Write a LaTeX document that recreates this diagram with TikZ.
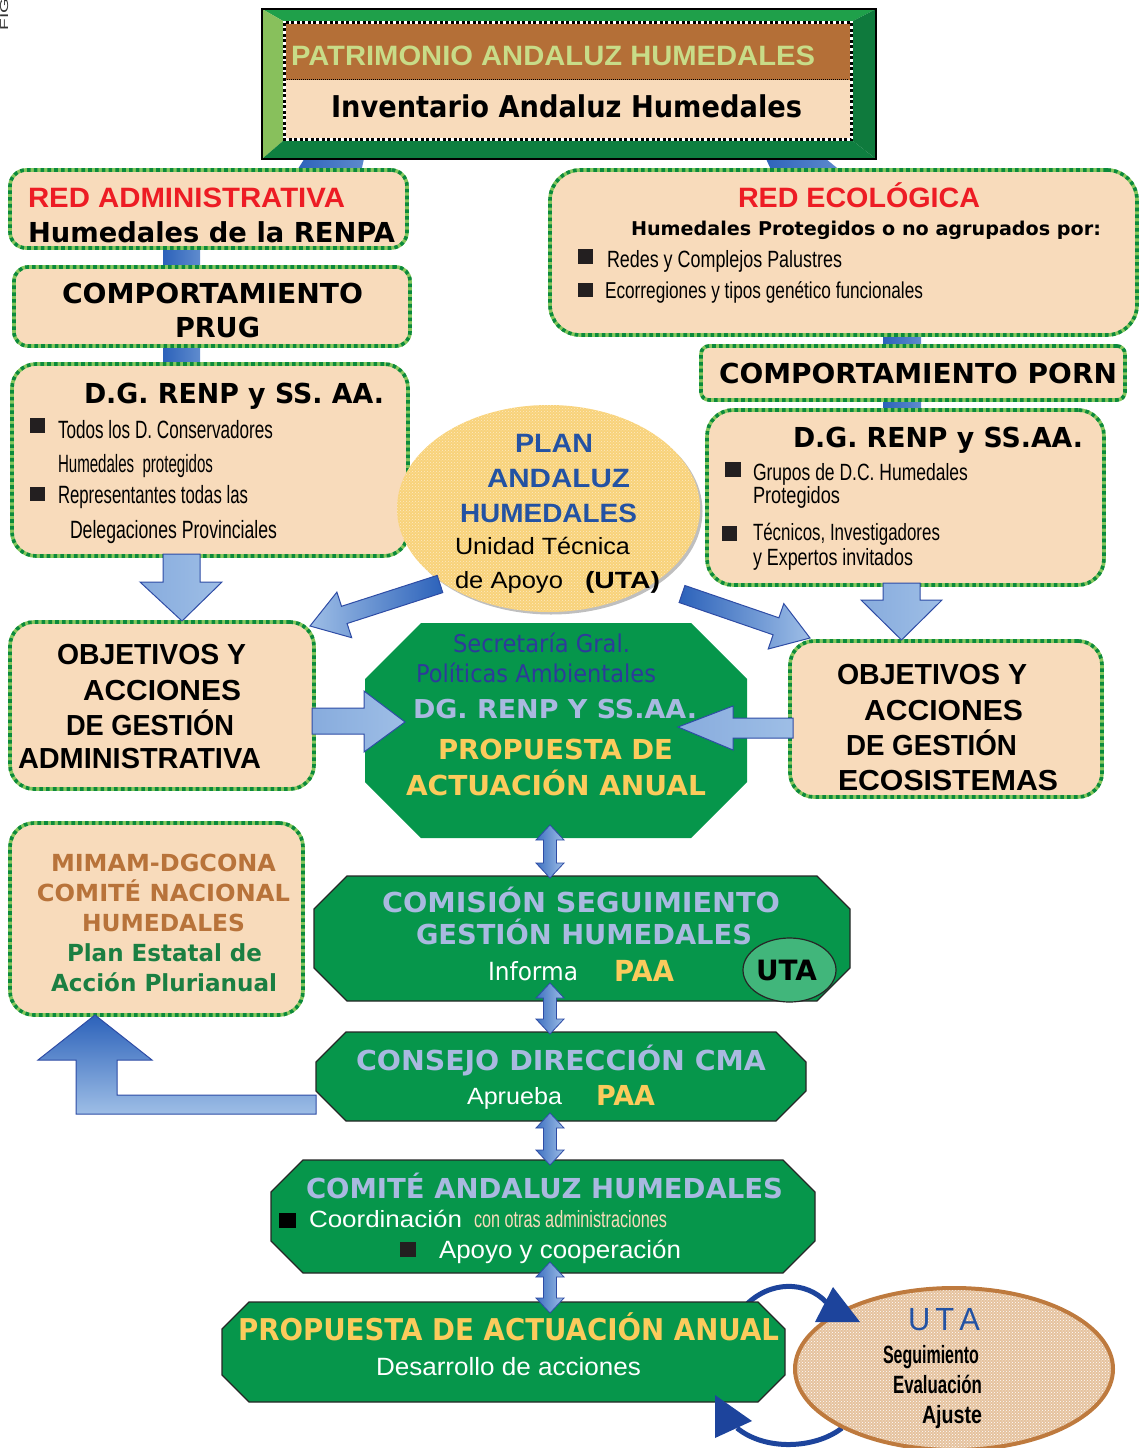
\documentclass[tikz,border=0pt]{standalone}
\usepackage{fontspec}
\usepackage{graphicx}
\usetikzlibrary{patterns,calc,shapes.geometric}
\newfontfamily\dvs{DejaVu Sans}
\newfontfamily\lib{Liberation Sans}
% text set at a given size and stretched to a given width
\newcommand\fitw[3]{\resizebox{#1pt}{\height}{\fontsize{#2pt}{#2pt}\selectfont #3}}
% chamfered green panel with a named node covering it
\newcommand\octbox[7]{%
  \path[#7] (#2+#6,#3) -- (#4-#6,#3) -- (#4,#3+#6) -- (#4,#5-#6) -- (#4-#6,#5) -- (#2+#6,#5) -- (#2,#5-#6) -- (#2,#3+#6) -- cycle;
  \node[inner sep=0pt, minimum width={(#4-#2)*1pt}, minimum height={(#5-#3)*1pt}] (#1) at ({(#2+#4)/2},{(#3+#5)/2}) {};}
% small vertical double-headed arrow
\newcommand\dbarrow[3]{%
  \path[dbl] (#1,#2) -- (#1+14,#2+15) -- (#1+6.5,#2+15) -- (#1+6.5,#3-15) -- (#1+14,#3-15) -- (#1,#3) -- (#1-14,#3-15) -- (#1-6.5,#3-15) -- (#1-6.5,#2+15) -- (#1-14,#2+15) -- cycle;}
\definecolor{peach}{HTML}{F8DBBB}
\definecolor{lgreen}{HTML}{86C75E}
\definecolor{dgreen}{HTML}{0B8A3C}
\definecolor{octgreen}{HTML}{06964B}
\definecolor{redt}{HTML}{ED1C24}
\definecolor{planblue}{HTML}{2352A3}
\definecolor{secblue}{HTML}{2E3A9A}
\definecolor{grayblue}{HTML}{A9B9E0}
\definecolor{yel}{HTML}{FBCB5C}
\definecolor{brownt}{HTML}{B8733A}
\definecolor{greent}{HTML}{1B7F42}
\definecolor{patr}{HTML}{C8DC88}
\definecolor{brownband}{HTML}{B46F37}
\definecolor{bvtop}{HTML}{1FA04A}
\definecolor{bvleft}{HTML}{88C05C}
\definecolor{bvbot}{HTML}{0E7F40}
\definecolor{bvright}{HTML}{0F7A3D}
\definecolor{adark}{HTML}{2C62BA}
\definecolor{alight}{HTML}{9EBEE6}
\definecolor{aedge}{HTML}{2E4CA5}
\definecolor{cycblue}{HTML}{1D449C}
\definecolor{planfill}{HTML}{F8D27A}
\definecolor{planpat}{HTML}{FDEBC2}
\definecolor{utafill}{HTML}{E5C29E}
\definecolor{utaedge}{HTML}{BE7A3E}
\definecolor{utagreen}{HTML}{41B67B}
\definecolor{bullet}{HTML}{231F20}
\begin{document}
\begin{tikzpicture}[x=1pt,y=-1pt,
  tx/.style={inner sep=0pt, outer sep=0pt, anchor=base west},
  pbox/.style={rounded corners=#1, fill=peach, draw=lgreen, line width=3.6pt, inner sep=0pt,
    postaction={draw=dgreen, line width=3.6pt, dash pattern=on 3.6pt off 3.2pt}},
  pbox/.default=18pt,
  oct/.style={fill=octgreen},
  octb/.style={fill=octgreen, draw=black!85, line width=1.3pt},
  shaft/.style={left color=adark, right color=adark!55!alight},
  big/.style={left color=alight!80!adark, right color=alight, draw=aedge, line width=1pt},
  dbl/.style={left color=adark!85!alight, right color=alight, draw=aedge, line width=0.8pt},
  cyc/.style={draw=cycblue, line width=5pt},
  sq/.style={fill=bullet}]
\useasboundingbox (0,0) rectangle (1140,1448);

% ---------- page caption running along the left edge ----------
\node[tx, rotate=90, text=black!80] (fig) at (8,30.5) {\fitw{32}{11.5}{\lib FIG}};

% ---------- connectors lying behind the boxes ----------
\path[shaft] (296,172) -- (310,150) -- (366,150) -- (361,172) -- cycle;
\path[shaft] (762,150) -- (815,150) -- (842,172) -- (772,172) -- cycle;
\path[shaft] (163,244) rectangle (200,270);
\path[shaft] (163,342) rectangle (200,368);
\path[shaft] (883,331) rectangle (921,350);
\path[shaft] (883,396) rectangle (921,414);

% ---------- title frame ----------
\fill[bvtop] (262,9) -- (876,9) -- (853,21) -- (283,21) -- cycle;
\fill[bvleft] (262,9) -- (283,21) -- (283,141) -- (262,159) -- cycle;
\fill[bvbot] (262,159) -- (283,141) -- (853,141) -- (876,159) -- cycle;
\fill[bvright] (876,9) -- (876,159) -- (853,141) -- (853,21) -- cycle;
\draw[black, line width=1.2pt] (262,9) rectangle (876,159);
\node[inner sep=0pt, minimum width=614pt, minimum height=150pt] (topbox) at (569,84) {};
\fill[brownband] (285,23) rectangle (851,79.5);
\fill[peach] (285,79.5) rectangle (851,139);
\draw[white, line width=3pt] (284.5,22.5) rectangle (851.5,139.5);
\draw[black, line width=3pt, dash pattern=on 3pt off 2.5pt] (284.5,22.5) rectangle (851.5,139.5);
\draw[black, line width=0.8pt, dash pattern=on 1pt off 1pt] (287,79.5) -- (849,79.5);

% ---------- peach boxes ----------
\node[pbox=16pt, minimum width=397pt, minimum height=78pt] (redadm) at (208.5,209) {};
\node[pbox=14pt, minimum width=396pt, minimum height=79pt] (prug) at (212,306.5) {};
\node[pbox=24pt, minimum width=396pt, minimum height=192pt] (dgl) at (210,460) {};
\node[pbox=30pt, minimum width=587pt, minimum height=165pt] (redeco) at (843.5,252.5) {};
\node[pbox=8pt, minimum width=424pt, minimum height=54pt] (porn) at (913,373) {};
\node[pbox=26pt, minimum width=397pt, minimum height=175pt] (dgr) at (905.5,497.5) {};
\node[pbox=24pt, minimum width=304pt, minimum height=167pt] (objl) at (162,705.5) {};
\node[pbox=24pt, minimum width=312pt, minimum height=156pt] (objr) at (946,719) {};
\node[pbox=24pt, minimum width=293pt, minimum height=192pt] (mimam) at (156.5,919) {};

% ---------- plan ellipse ----------
\fill[black!25] (551,511) ellipse [x radius=151.5, y radius=103.5];
\fill[planfill] (548.5,508.5) ellipse [x radius=151.5, y radius=103.5];
\fill[pattern=crosshatch dots, pattern color=planpat] (548.5,508.5) ellipse [x radius=151.5, y radius=103.5];
\node[inner sep=0pt, minimum width=303pt, minimum height=207pt, ellipse] (plan) at (548.5,508.5) {};

% ---------- green panels ----------
\octbox{prop1}{365}{623}{747}{838}{56}{oct}
\octbox{comision}{314}{876}{850}{1001}{33}{octb}
\draw[black!85, line width=1.2pt, fill=utagreen] (789.5,970) ellipse [x radius=46.5, y radius=32];
\node[inner sep=0pt, minimum width=93pt, minimum height=64pt, ellipse] (utas) at (789.5,970) {};
\octbox{consejo}{316}{1032}{806}{1121}{30}{octb}
\octbox{comite}{271}{1160}{815}{1273}{32}{octb}

% ---------- review cycle ----------
\draw[cyc] (745,1306) .. controls (770,1280) and (806,1281) .. (826,1302);
\draw[cyc] (842,1428) .. controls (815,1449) and (765,1451) .. (737,1428);
\octbox{prop2}{222}{1302}{785}{1402}{27}{octb}
\fill[utafill] (954,1369) ellipse [x radius=159, y radius=81];
\fill[pattern=crosshatch dots, pattern color=white] (954,1369) ellipse [x radius=159, y radius=81];
\draw[utaedge, line width=4pt] (954,1369) ellipse [x radius=159, y radius=81];
\node[inner sep=0pt, minimum width=318pt, minimum height=162pt, ellipse] (utab) at (954,1369) {};
\fill[cycblue] (860,1322) -- (815,1322) -- (833,1287) -- cycle;
\fill[cycblue] (715,1395) -- (715,1438) -- (752,1421) -- cycle;

% ---------- block arrows ----------
\path[big] (163,554) -- (163,582) -- (140,582) -- (182,621) -- (222,582) -- (200,582) -- (200,554) -- cycle;
\path[big] (883,583) -- (883,600) -- (861,600) -- (901.5,640) -- (942,600) -- (920,600) -- (920,583) -- cycle;
\path[big] (312,708) -- (364,708) -- (364,691) -- (405,722) -- (364,752) -- (364,734) -- (312,734) -- cycle;
\path[big] (793,718) -- (733,718) -- (733,706) -- (678,727) -- (733,750) -- (733,738) -- (793,738) -- cycle;
\path[left color=alight, right color=adark, draw=aedge, line width=1pt]
  (437.2,575.4) -- (341.5,606.3) -- (336.9,592.1) -- (310,626) -- (351.7,637.7) -- (347.1,623.5) -- (442.8,592.6) -- cycle;
\path[left color=adark, right color=alight, draw=aedge, line width=1pt]
  (684.9,585.5) -- (778.9,617.8) -- (783.8,603.6) -- (810,638) -- (768.2,649) -- (773.1,634.8) -- (679.1,602.5) -- cycle;
\path[top color=adark, bottom color=alight, draw=aedge, line width=1pt]
  (38,1060) -- (95,1015) -- (152,1060) -- (117,1060) -- (117,1095) -- (316,1095) -- (316,1114) -- (76,1114) -- (76,1060) -- cycle;
\dbarrow{550}{825}{878}
\dbarrow{550}{983}{1034}
\dbarrow{550}{1113}{1165}
\dbarrow{550}{1262}{1313}

% ---------- bullets ----------
\fill[sq] (30,418) rectangle (45,433);
\fill[sq] (30,487) rectangle (45,501);
\fill[sq] (578,249) rectangle (593,264);
\fill[sq] (578,283) rectangle (593,297);
\fill[sq] (725,462) rectangle (741,477);
\fill[sq] (722,526) rectangle (737,541);
\fill[black] (279,1213) rectangle (296,1228);
\fill[sq] (400,1242) rectangle (416,1257);

% ---------- texts ----------
\node[tx, text=patr] (t1) at (291,65) {\fitw{524}{28}{\lib\bfseries PATRIMONIO ANDALUZ HUMEDALES}};
\node[tx] (t2) at (331,117) {\fitw{471}{30}{\dvs\bfseries Inventario Andaluz Humedales}};
\node[tx, text=redt] (t3) at (28,207) {\fitw{317}{28}{\lib\bfseries RED ADMINISTRATIVA}};
\node[tx] (t4) at (28,242) {\fitw{367}{27.5}{\dvs\bfseries Humedales de la RENPA}};
\node[tx] (t5) at (62,303) {\fitw{301}{27.5}{\dvs\bfseries COMPORTAMIENTO}};
\node[tx] (t6) at (175,337) {\fitw{85}{27.5}{\dvs\bfseries PRUG}};
\node[tx] (t7) at (84,403) {\fitw{300}{27.5}{\dvs\bfseries D.G. RENP y SS. AA.}};
\node[tx] (t8) at (58,438) {\fitw{215}{25}{\lib Todos los D. Conservadores}};
\node[tx] (t9) at (58,472) {\fitw{155}{25}{\lib Humedales\ \ protegidos}};
\node[tx] (t10) at (58,503) {\fitw{190}{25}{\lib Representantes todas las}};
\node[tx] (t11) at (70,538) {\fitw{207}{25}{\lib Delegaciones Provinciales}};
\node[tx, text=redt] (t12) at (738,207) {\fitw{242}{28}{\lib\bfseries RED ECOLÓGICA}};
\node[tx] (t13) at (631,235) {\fitw{470}{19}{\dvs\bfseries Humedales Protegidos o no agrupados por:}};
\node[tx] (t14) at (607,267) {\fitw{235}{23.5}{\lib Redes y Complejos Palustres}};
\node[tx] (t15) at (605,298) {\fitw{318}{23}{\lib Ecorregiones y tipos genético funcionales}};
\node[tx] (t16) at (719,383) {\fitw{398}{27.5}{\dvs\bfseries COMPORTAMIENTO PORN}};
\node[tx] (t17) at (793,447) {\fitw{290}{27.5}{\dvs\bfseries D.G. RENP y SS.AA.}};
\node[tx] (t18) at (753,480) {\fitw{215}{23.5}{\lib Grupos de D.C. Humedales}};
\node[tx] (t19) at (753,503) {\fitw{87}{23.5}{\lib Protegidos}};
\node[tx] (t20) at (753,540) {\fitw{187}{23.5}{\lib Técnicos, Investigadores}};
\node[tx] (t21) at (753,565) {\fitw{160}{23.5}{\lib y Expertos invitados}};
\node[tx, text=planblue] (t22) at (515,452) {\fitw{78}{26.5}{\lib\bfseries PLAN}};
\node[tx, text=planblue] (t23) at (487,487) {\fitw{143}{26.5}{\lib\bfseries ANDALUZ}};
\node[tx, text=planblue] (t24) at (460,522) {\fitw{177}{26.5}{\lib\bfseries HUMEDALES}};
\node[tx] (t25) at (455,554) {\fitw{175}{23.5}{\lib Unidad Técnica}};
\node[tx] (t26) at (455,588) {\fitw{108}{23.5}{\lib de Apoyo}};
\node[tx] (t27) at (585,588) {\fitw{75}{23.5}{\lib\bfseries (UTA)}};
\node[tx] (t28) at (57,664) {\fitw{189}{29}{\lib\bfseries OBJETIVOS Y}};
\node[tx] (t29) at (83,700) {\fitw{158}{29}{\lib\bfseries ACCIONES}};
\node[tx] (t30) at (66,735) {\fitw{168}{29}{\lib\bfseries DE GESTIÓN}};
\node[tx] (t31) at (18,768) {\fitw{243}{29}{\lib\bfseries ADMINISTRATIVA}};
\node[tx] (t32) at (837,684) {\fitw{190}{29}{\lib\bfseries OBJETIVOS Y}};
\node[tx] (t33) at (864,720) {\fitw{159}{29}{\lib\bfseries ACCIONES}};
\node[tx] (t34) at (846,755) {\fitw{171}{29}{\lib\bfseries DE GESTIÓN}};
\node[tx] (t35) at (838,790) {\fitw{220}{29}{\lib\bfseries ECOSISTEMAS}};
\node[tx, text=secblue] (t36) at (453,652) {\fitw{177}{24.5}{\dvs Secretaría Gral.}};
\node[tx, text=secblue] (t37) at (416,682) {\fitw{240}{24.5}{\dvs Políticas Ambientales}};
\node[tx, text=grayblue] (t38) at (413,718) {\fitw{284}{26}{\dvs\bfseries DG. RENP Y SS.AA.}};
\node[tx, text=yel] (t39) at (438,759) {\fitw{235}{27.5}{\dvs\bfseries PROPUESTA DE}};
\node[tx, text=yel] (t40) at (406,795) {\fitw{300}{27.5}{\dvs\bfseries ACTUACIÓN ANUAL}};
\node[tx, text=brownt] (t41) at (51,871) {\fitw{225}{23.5}{\dvs\bfseries MIMAM-DGCONA}};
\node[tx, text=brownt] (t42) at (37,901) {\fitw{253}{23.5}{\dvs\bfseries COMITÉ NACIONAL}};
\node[tx, text=brownt] (t43) at (82,931) {\fitw{163}{23.5}{\dvs\bfseries HUMEDALES}};
\node[tx, text=greent] (t44) at (67,961) {\fitw{195}{23.5}{\dvs\bfseries Plan Estatal de}};
\node[tx, text=greent] (t45) at (51,991) {\fitw{226}{23.5}{\dvs\bfseries Acción Plurianual}};
\node[tx, text=grayblue] (t46) at (382,912) {\fitw{398}{27.5}{\dvs\bfseries COMISIÓN SEGUIMIENTO}};
\node[tx, text=grayblue] (t47) at (416,944) {\fitw{336}{27.5}{\dvs\bfseries GESTIÓN HUMEDALES}};
\node[tx, text=white] (t48) at (488,980) {\fitw{90}{25}{\dvs Informa}};
\node[tx, text=yel] (t49) at (614,981) {\fitw{60}{29}{\dvs\bfseries PAA}};
\node[tx] (t50) at (756,980) {\fitw{61}{28}{\dvs\bfseries UTA}};
\node[tx, text=grayblue] (t51) at (356,1070) {\fitw{410}{27.5}{\dvs\bfseries CONSEJO DIRECCIÓN CMA}};
\node[tx, text=white] (t52) at (467,1104) {\fitw{95}{23.5}{\lib Aprueba}};
\node[tx, text=yel] (t53) at (596,1105) {\fitw{59}{27.5}{\dvs\bfseries PAA}};
\node[tx, text=grayblue] (t54) at (306,1198) {\fitw{477}{27.5}{\dvs\bfseries COMITÉ ANDALUZ HUMEDALES}};
\node[tx, text=white] (t55) at (309,1227) {\fitw{153}{23.5}{\lib Coordinación}};
\node[tx, text=peach] (t56) at (474,1227) {\fitw{193}{23.5}{\lib con otras administraciones}};
\node[tx, text=white] (t57) at (439,1258) {\fitw{242}{25}{\lib Apoyo y cooperación}};
\node[tx, text=yel] (t58) at (238,1340) {\fitw{541}{30}{\dvs\bfseries PROPUESTA DE ACTUACIÓN ANUAL}};
\node[tx, text=white] (t59) at (376,1375) {\fitw{265}{25}{\lib Desarrollo de acciones}};
\node[tx, text=planblue] (t60) at (908,1330) {\fitw{72}{32}{\lib U\,T\,A}};
\node[tx] (t61) at (883,1363) {\fitw{96}{25}{\lib\bfseries Seguimiento}};
\node[tx] (t62) at (893,1393) {\fitw{89}{25}{\lib\bfseries Evaluación}};
\node[tx] (t63) at (922,1423) {\fitw{60}{25}{\lib\bfseries Ajuste}};
\end{tikzpicture}
\end{document}
